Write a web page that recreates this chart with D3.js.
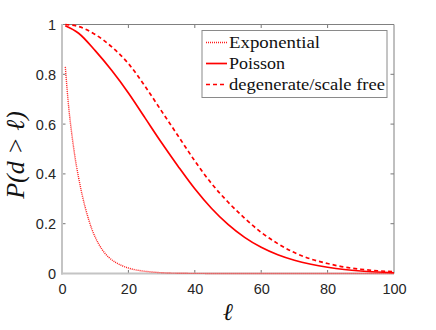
<!DOCTYPE html>
<html>
<head>
<meta charset="utf-8">
<script src="https://cdn.jsdelivr.net/npm/d3@7"></script>
<style>
  html, body { margin: 0; padding: 0; background: #ffffff; }
  svg { display: block; }
</style>
</head>
<body>
<svg id="chart" width="436" height="330"></svg>
<script>
// ---- data ----
const expL = [1, 2, 3, 4, 5, 6, 7, 8, 9, 10, 12, 14, 16, 18, 20, 22, 25, 28, 32, 40, 50, 60, 70, 80, 90, 100];
const expP = [0.83, 0.67, 0.555, 0.46, 0.385, 0.32, 0.265, 0.218, 0.178, 0.146, 0.098, 0.066, 0.046, 0.032, 0.022, 0.015, 0.009, 0.005, 0.002, 0.0005, 0.0001, 0, 0, 0, 0, 0];

const poisL = [1, 5, 10, 15, 20, 25, 30, 35, 40, 45, 50, 55, 60, 65, 70, 75, 80, 85, 90, 95, 100];
const poisP = [0.995, 0.965, 0.895, 0.815, 0.725, 0.625, 0.525, 0.43, 0.34, 0.262, 0.197, 0.145, 0.105, 0.075, 0.053, 0.037, 0.025, 0.016, 0.01, 0.006, 0.003];

const degL = [1, 5, 10, 15, 20, 25, 30, 35, 40, 45, 50, 55, 60, 65, 70, 75, 80, 85, 90, 95, 100];
const degP = [1.0, 0.992, 0.96, 0.91, 0.843, 0.752, 0.652, 0.552, 0.452, 0.362, 0.287, 0.222, 0.165, 0.12, 0.084, 0.058, 0.04, 0.026, 0.017, 0.011, 0.007];

const xTicks = [0, 20, 40, 60, 80, 100];
const yTicks = [0, 0.2, 0.4, 0.6, 0.8, 1];
const seriesNames = ["Exponential", "Poisson", "degenerate/scale free"];

// ---- layout ----
const svg = d3.select("#chart");
const L = 62, R = 394, T = 24.5, B = 273.5;
const x = d3.scaleLinear().domain([0, 100]).range([L, R]);
const y = d3.scaleLinear().domain([0, 1]).range([B, T]);

const red = "#ff0000";
const axisCol = "#262626";

const g = svg.append("g");
const tickLen = 3.5;
xTicks.forEach(t => {
  if (t === 0 || t === 100) return;
  g.append("line").attr("x1", x(t)).attr("x2", x(t)).attr("y1", B).attr("y2", B - tickLen)
    .attr("stroke", "#777").attr("stroke-width", 1);
  g.append("line").attr("x1", x(t)).attr("x2", x(t)).attr("y1", T).attr("y2", T + tickLen)
    .attr("stroke", "#777").attr("stroke-width", 1);
});
yTicks.forEach(t => {
  if (t === 0 || t === 1) return;
  g.append("line").attr("x1", L).attr("x2", L + tickLen).attr("y1", y(t)).attr("y2", y(t))
    .attr("stroke", "#777").attr("stroke-width", 1);
  g.append("line").attr("x1", R).attr("x2", R - tickLen).attr("y1", y(t)).attr("y2", y(t))
    .attr("stroke", "#777").attr("stroke-width", 1);
});
g.append("line").attr("x1", L).attr("x2", R).attr("y1", T).attr("y2", T).attr("stroke", "#808080").attr("stroke-width", 1);
g.append("line").attr("x1", R).attr("x2", R).attr("y1", T).attr("y2", B).attr("stroke", "#808080").attr("stroke-width", 1);

const fontSans = "'Liberation Sans', Arial, Helvetica, sans-serif";
const xAxis = svg.append("g").attr("transform", `translate(0,${B})`)
  .call(d3.axisBottom(x).tickValues(xTicks).tickSize(0).tickPadding(20).tickFormat(d3.format("d")));
xAxis.select(".domain").remove();
xAxis.selectAll("text").attr("font-family", fontSans).attr("font-size", 14.5).attr("fill", axisCol)
  .attr("dy", null).attr("y", 20.5);

const yAxis = svg.append("g").attr("transform", `translate(${L},0)`)
  .call(d3.axisLeft(y).tickValues(yTicks).tickSize(0).tickPadding(6).tickFormat(d => d === 0 || d === 1 ? d3.format("d")(d) : d3.format(".1f")(d)));
yAxis.select(".domain").remove();
yAxis.selectAll("text").attr("font-family", fontSans).attr("font-size", 14.5).attr("fill", axisCol)
  .attr("dy", "0.35em");

g.append("line").attr("x1", L).attr("x2", L).attr("y1", T - 0.5).attr("y2", B + 1).attr("stroke", "#c4c4c4").attr("stroke-width", 2);
g.append("line").attr("x1", L - 1).attr("x2", R).attr("y1", B).attr("y2", B).attr("stroke", "#c4c4c4").attr("stroke-width", 2);

// ---- curves ----
const line = d3.line().x(d => x(d[0])).y(d => y(d[1])).curve(d3.curveMonotoneX);
const expData = expL.map((l, i) => [l, expP[i]]);
const poisData = poisL.map((l, i) => [l, poisP[i]]);
const degData = degL.map((l, i) => [l, degP[i]]);

const styles = [
  { dash: "1,1", width: 1.4, color: "#ff1a1a" },
  { dash: null, width: 1.7, color: red },
  { dash: "4,3", width: 1.7, color: red }
];
[expData, poisData, degData].forEach((d, i) => {
  const p = svg.append("path").datum(d).attr("d", line).attr("fill", "none")
    .attr("stroke", styles[i].color).attr("stroke-width", styles[i].width);
  if (styles[i].dash) p.attr("stroke-dasharray", styles[i].dash);
});

// ---- legend ----
const lg = svg.append("g");
lg.append("rect").attr("x", 202).attr("y", 30.5).attr("width", 185).attr("height", 67)
  .attr("fill", "#ffffff").attr("stroke", "#8a8a8a").attr("stroke-width", 1);
const rowsY = [42.5, 63.5, 84.5];
const fontSerif = "'Liberation Serif', 'DejaVu Serif', serif";
const textLens = [91, 56, 156];
seriesNames.forEach((name, i) => {
  const ln = lg.append("line").attr("x1", 206).attr("x2", 227).attr("y1", rowsY[i]).attr("y2", rowsY[i])
    .attr("stroke", styles[i].color).attr("stroke-width", styles[i].width);
  if (styles[i].dash) ln.attr("stroke-dasharray", styles[i].dash);
  lg.append("text").attr("x", 229).attr("y", rowsY[i] + 5).text(name)
    .attr("font-family", fontSerif).attr("font-size", 17).attr("fill", "#111")
    .attr("textLength", textLens[i]).attr("lengthAdjust", "spacingAndGlyphs");
});

// ---- axis labels ----
svg.append("text").attr("x", (L + R) / 2).attr("y", 320).attr("text-anchor", "middle")
  .attr("font-family", fontSerif).attr("font-style", "italic").attr("font-size", 24).attr("fill", "#111")
  .text("ℓ");
svg.append("text").attr("transform", `translate(24,155) rotate(-90)`).attr("text-anchor", "middle")
  .attr("font-family", fontSerif).attr("font-style", "italic").attr("font-size", 26).attr("fill", "#111")
  .text("P(d > ℓ)");
</script>
</body>
</html>
